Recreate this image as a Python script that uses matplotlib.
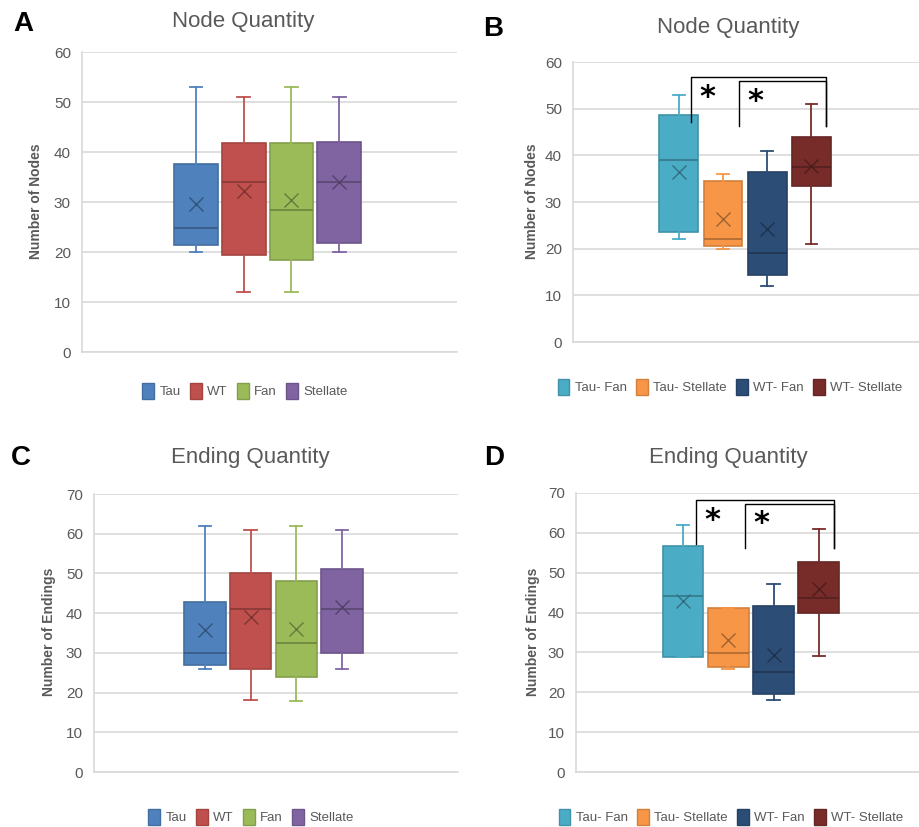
import numpy as np
import matplotlib
matplotlib.use('Agg')
import matplotlib.pyplot as plt
import matplotlib.patches as mpatches
import matplotlib.colors as mcolors

plt.rcParams['font.family'] = ['Liberation Sans', 'DejaVu Sans']

# panel A / C groups
groups = ['Tau', 'WT', 'Fan', 'Stellate']
colors = ['#4F81BD', '#C0504D', '#9BBB59', '#8064A2']
# panel B / D groups
groups2 = ['Tau- Fan', 'Tau- Stellate', 'WT- Fan', 'WT- Stellate']
colors2 = ['#4BACC6', '#F79646', '#2C4D75', '#772C2A']

# A: node quantity
node_lo = [20, 12, 12, 20]
node_q1 = [21.5, 19.4, 18.5, 21.8]
node_med = [24.9, 34, 28.5, 34]
node_q3 = [37.6, 41.8, 41.8, 42]
node_hi = [53, 51, 53, 51]
node_mean = [29.7, 32.2, 30.4, 34]

# B: node quantity by group
node2_lo = [22.1, 20, 12, 21.1]
node2_q1 = [23.5, 20.5, 14.4, 33.5]
node2_med = [39, 22.1, 19, 37.6]
node2_q3 = [48.6, 34.6, 36.5, 44]
node2_hi = [53, 36, 41, 51]
node2_mean = [36.5, 26.4, 24.3, 37.8]

# C: ending quantity
end_lo = [26, 18.1, 18, 26]
end_q1 = [26.9, 25.9, 23.9, 29.9]
end_med = [30, 41.1, 32.5, 41.1]
end_q3 = [42.7, 50, 48.1, 51.1]
end_hi = [62, 61, 62, 61]
end_mean = [35.7, 39, 36, 41.5]

# D: ending quantity by group
end2_lo = [28.9, 25.9, 18.1, 29]
end2_q1 = [28.9, 26.3, 19.5, 40]
end2_med = [44.1, 29.9, 25.1, 43.6]
end2_q3 = [56.6, 41.1, 41.7, 52.8]
end2_hi = [62, 41.1, 47.1, 61]
end2_mean = [42.9, 33, 29.3, 45.8]

# significance brackets: (x left, x right, top, left leg bottom, right leg bottom)
brk_B = [(0.28, 3.33, 56.8, 47.2, 46.3), (1.37, 3.33, 56.0, 46.3, 46.3)]
star_B = [(0.65, 52.3), (1.74, 51.5)]
brk_D = [(0.28, 3.33, 68.3, 57.1, 56.2), (1.37, 3.33, 67.3, 56.2, 56.2)]
star_D = [(0.65, 63.2), (1.74, 62.4)]

W, H = 919, 827
fig = plt.figure(figsize=(W / 100, H / 100), dpi=100)
txt = '#595959'
grid = '#D9D9D9'


def shade(c, f):
    r, g, b = mcolors.to_rgb(c)
    return (r * f, g * f, b * f)


def px(x0, y0, x1, y1):
    return [x0 / W, 1 - y1 / H, (x1 - x0) / W, (y1 - y0) / H]


def panel(rect, lo, q1, med, q3, hi, mean, cols, ymax, xlim, width):
    ax = fig.add_axes(rect)
    stats = []
    for i in range(4):
        stats.append(dict(whislo=lo[i], q1=q1[i], med=med[i], q3=q3[i],
                          whishi=hi[i], mean=mean[i], fliers=[]))
    b = ax.bxp(stats, positions=range(4), widths=width, capwidths=0.27,
               showmeans=True, patch_artist=True, zorder=3)
    for i in range(4):
        c = cols[i]
        b['boxes'][i].set(facecolor=c, edgecolor=shade(c, 0.85), linewidth=1.2)
        b['medians'][i].set(color=shade(c, 0.7), linewidth=1.2)
        b['means'][i].set(marker='x', markeredgecolor=shade(c, 0.65),
                          markersize=10, markeredgewidth=1.0)
        for w in b['whiskers'][2 * i:2 * i + 2] + b['caps'][2 * i:2 * i + 2]:
            w.set(color=c, linewidth=1.3)
    ax.set_ylim(0, ymax)
    ax.set_xlim(*xlim)
    ax.set_yticks(np.arange(0, ymax + 1, 10))
    ax.set_xticks([])
    ax.yaxis.grid(True, color=grid, linewidth=1.2, zorder=0)
    ax.set_axisbelow(True)
    for s in ['top', 'right']:
        ax.spines[s].set_visible(False)
    ax.spines['left'].set_color(grid)
    ax.spines['bottom'].set_color(grid)
    ax.spines['left'].set_linewidth(1.2)
    ax.spines['bottom'].set_linewidth(1.2)
    ax.tick_params(axis='y', length=0, labelsize=11, labelcolor=txt, pad=8)
    return ax


def legend(ax, labels, cols, x, y):
    hs = [mpatches.Patch(facecolor=c, edgecolor=shade(c, 0.85)) for c in cols]
    ax.legend(hs, labels, loc='center', bbox_to_anchor=(x / W, 1 - y / H),
              bbox_transform=fig.transFigure, ncol=4, frameon=False,
              fontsize=9.5, labelcolor=txt, handlelength=0.9, handleheight=1.4,
              handletextpad=0.4, columnspacing=0.7, borderpad=0.2)


def brackets(ax, brk, stars):
    for x0, x1, top, l0, l1 in brk:
        ax.plot([x0, x0, x1, x1], [l0, top, top, l1], color='black', lw=1, zorder=4)
    for sx, sy in stars:
        ax.text(sx, sy, '*', fontsize=22, fontweight='bold', ha='center',
                va='center', family='DejaVu Sans')


axA = panel(px(82, 52, 457, 352), node_lo, node_q1, node_med, node_q3, node_hi,
            node_mean, colors, 60, (-2.39, 5.47), 0.92)
axB = panel(px(573, 62, 919, 342), node2_lo, node2_q1, node2_med, node2_q3,
            node2_hi, node2_mean, colors2, 60, (-2.39, 5.43), 0.88)
axC = panel(px(94, 494, 458, 772), end_lo, end_q1, end_med, end_q3, end_hi,
            end_mean, colors, 70, (-2.43, 5.54), 0.91)
axD = panel(px(576, 493, 919, 772), end2_lo, end2_q1, end2_med, end2_q3,
            end2_hi, end2_mean, colors2, 70, (-2.36, 5.21), 0.9)

brackets(axB, brk_B, star_B)
brackets(axD, brk_D, star_D)

legend(axA, groups, colors, 245, 391)
legend(axB, groups2, colors2, 730, 387)
legend(axC, groups, colors, 251, 817)
legend(axD, groups2, colors2, 731, 817)

# titles, panel letters, axis labels
for t, x, y in [('Node Quantity', 243, 21), ('Node Quantity', 728, 27),
                ('Ending Quantity', 250, 458), ('Ending Quantity', 728, 457)]:
    fig.text(x / W, 1 - y / H, t, fontsize=16, color=txt, ha='center', va='center')
for t, x, y in [('A', 23, 24), ('B', 493, 29), ('C', 21, 458), ('D', 494, 458)]:
    fig.text(x / W, 1 - y / H, t, fontsize=20, fontweight='bold', color='black',
             ha='center', va='center')
for t, x, y in [('Number of Nodes', 36, 201), ('Number of Nodes', 532, 201),
                ('Number of Endings', 49, 632), ('Number of Endings', 533, 632)]:
    fig.text(x / W, 1 - y / H, t, fontsize=10, fontweight='bold', color=txt,
             ha='center', va='center', rotation=90)

fig.savefig('out.png', dpi=100)
